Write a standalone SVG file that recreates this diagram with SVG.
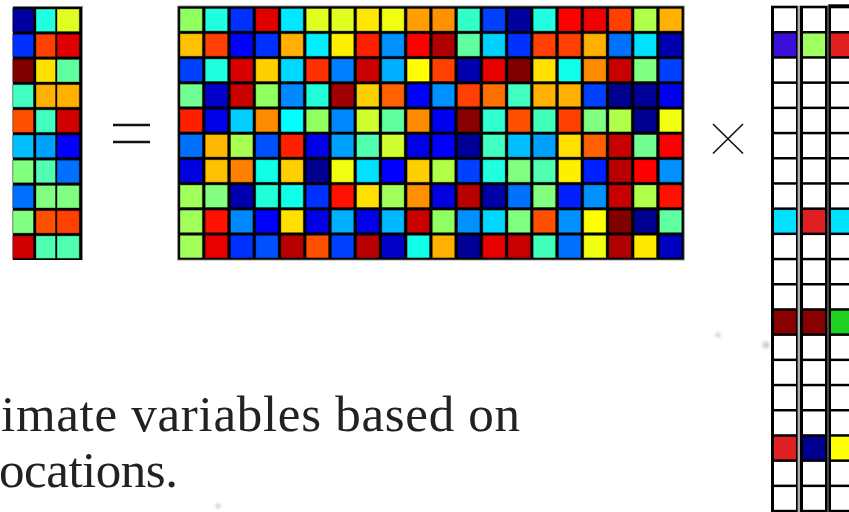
<svg xmlns="http://www.w3.org/2000/svg" xmlns:xlink="http://www.w3.org/1999/xlink" width="849" height="512" viewBox="0 0 849 512">
<style>
.frame{fill:#000;stroke:#888;stroke-width:0.8}
.m use{stroke:#000;stroke-opacity:0.35;stroke-width:1}
.r use{stroke:none}
.op{stroke:#111;stroke-linecap:butt}
.txt{font-family:"Liberation Serif","Times New Roman",serif;font-size:51px;fill:#222}
.smudge{fill:#bbb;opacity:0.7}
</style>
<defs>
<rect id="c" width="22.4" height="22.6"/>
<rect id="lc1" width="20.7" height="22.6"/>
<rect id="lc2" width="19.5" height="22.6"/>
<rect id="lc3" width="22.3" height="22.6"/>
<rect id="rc" width="22" height="22.7"/>
<filter id="blur"><feGaussianBlur stdDeviation="1.5"/></filter>
</defs>
<rect width="849" height="512" fill="#fff"/>

<g id="vector-left" class="m">
<rect x="12.8" y="6.5" width="69.7" height="253.5" fill="#000"/>
<line x1="82.5" y1="5.5" x2="82.5" y2="260.5" stroke="#999" stroke-width="0.8"/>
<use href="#lc1" x="12.8" y="9" fill="#0000a0"/><use href="#lc2" x="36" y="9" fill="#20ffe0"/><use href="#lc3" x="57" y="9" fill="#e0ff20"/>
<use href="#lc1" x="12.8" y="34.2" fill="#0030ff"/><use href="#lc2" x="36" y="34.2" fill="#ff4000"/><use href="#lc3" x="57" y="34.2" fill="#e00000"/>
<use href="#lc1" x="12.8" y="59.4" fill="#800000"/><use href="#lc2" x="36" y="59.4" fill="#ffe000"/><use href="#lc3" x="57" y="59.4" fill="#60ffa0"/>
<use href="#lc1" x="12.8" y="84.6" fill="#40ffc0"/><use href="#lc2" x="36" y="84.6" fill="#ffb000"/><use href="#lc3" x="57" y="84.6" fill="#ffb000"/>
<use href="#lc1" x="12.8" y="109.8" fill="#ff5000"/><use href="#lc2" x="36" y="109.8" fill="#40ffc0"/><use href="#lc3" x="57" y="109.8" fill="#d00000"/>
<use href="#lc1" x="12.8" y="135" fill="#00c0ff"/><use href="#lc2" x="36" y="135" fill="#00a0ff"/><use href="#lc3" x="57" y="135" fill="#0000ff"/>
<use href="#lc1" x="12.8" y="160.2" fill="#80ff80"/><use href="#lc2" x="36" y="160.2" fill="#50ffb0"/><use href="#lc3" x="57" y="160.2" fill="#0070ff"/>
<use href="#lc1" x="12.8" y="185.4" fill="#0070ff"/><use href="#lc2" x="36" y="185.4" fill="#80ff80"/><use href="#lc3" x="57" y="185.4" fill="#80ff80"/>
<use href="#lc1" x="12.8" y="210.6" fill="#80ff80"/><use href="#lc2" x="36" y="210.6" fill="#ff5000"/><use href="#lc3" x="57" y="210.6" fill="#ff4000"/>
<use href="#lc1" x="12.8" y="235.8" fill="#d00000"/><use href="#lc2" x="36" y="235.8" fill="#50ffb0"/><use href="#lc3" x="57" y="235.8" fill="#50ffb0"/>
</g>

<g id="equals">
<line class="op" x1="113" y1="125" x2="150" y2="125" stroke-width="2.3"/>
<line class="op" x1="113" y1="142" x2="150" y2="142" stroke-width="2.3"/>
</g>

<g id="matrix-middle" class="m">
<rect class="frame" x="177.7" y="6" width="506.5" height="254"/>
<g transform="translate(0,8.5)">
<use href="#c" x="180" fill="#90ff60"/><use href="#c" x="205.2" fill="#20ffe0"/><use href="#c" x="230.5" fill="#0030ff"/><use href="#c" x="255.7" fill="#e00000"/><use href="#c" x="280.9" fill="#00e8ff"/><use href="#c" x="306.2" fill="#e0ff20"/><use href="#c" x="331.4" fill="#e0ff20"/><use href="#c" x="356.6" fill="#ffe800"/><use href="#c" x="381.8" fill="#f0ff10"/><use href="#c" x="407.1" fill="#ffa000"/>
<use href="#c" x="432.3" fill="#ff9000"/><use href="#c" x="457.5" fill="#30ffc8"/><use href="#c" x="482.8" fill="#0040ff"/><use href="#c" x="508" fill="#0000a0"/><use href="#c" x="533.2" fill="#20ffe0"/><use href="#c" x="558.5" fill="#ff0000"/><use href="#c" x="583.7" fill="#f00000"/><use href="#c" x="608.9" fill="#ff4000"/><use href="#c" x="634.1" fill="#b0ff48"/><use href="#c" x="659.4" fill="#ffb000"/>
</g>
<g transform="translate(0,33.7)">
<use href="#c" x="180" fill="#ffc000"/><use href="#c" x="205.2" fill="#ff4000"/><use href="#c" x="230.5" fill="#0000ff"/><use href="#c" x="255.7" fill="#0030ff"/><use href="#c" x="280.9" fill="#ffb000"/><use href="#c" x="306.2" fill="#00f0ff"/><use href="#c" x="331.4" fill="#fff000"/><use href="#c" x="356.6" fill="#ff2000"/><use href="#c" x="381.8" fill="#0090ff"/><use href="#c" x="407.1" fill="#ff0000"/>
<use href="#c" x="432.3" fill="#b00000"/><use href="#c" x="457.5" fill="#60ffa0"/><use href="#c" x="482.8" fill="#00d0ff"/><use href="#c" x="508" fill="#0030ff"/><use href="#c" x="533.2" fill="#ff4000"/><use href="#c" x="558.5" fill="#ff4000"/><use href="#c" x="583.7" fill="#ffb000"/><use href="#c" x="608.9" fill="#0070ff"/><use href="#c" x="634.1" fill="#00e0ff"/><use href="#c" x="659.4" fill="#0000b0"/>
</g>
<g transform="translate(0,58.9)">
<use href="#c" x="180" fill="#0040ff"/><use href="#c" x="205.2" fill="#20ffe0"/><use href="#c" x="230.5" fill="#d80000"/><use href="#c" x="255.7" fill="#ffd000"/><use href="#c" x="280.9" fill="#00d8ff"/><use href="#c" x="306.2" fill="#ff3000"/><use href="#c" x="331.4" fill="#0080ff"/><use href="#c" x="356.6" fill="#c80000"/><use href="#c" x="381.8" fill="#00b0ff"/><use href="#c" x="407.1" fill="#ffff00"/>
<use href="#c" x="432.3" fill="#ff4000"/><use href="#c" x="457.5" fill="#0000b0"/><use href="#c" x="482.8" fill="#e80000"/><use href="#c" x="508" fill="#800000"/><use href="#c" x="533.2" fill="#ffe000"/><use href="#c" x="558.5" fill="#10ffe8"/><use href="#c" x="583.7" fill="#ff8c00"/><use href="#c" x="608.9" fill="#c80000"/><use href="#c" x="634.1" fill="#80ff80"/><use href="#c" x="659.4" fill="#0040ff"/>
</g>
<g transform="translate(0,84.1)">
<use href="#c" x="180" fill="#70ff90"/><use href="#c" x="205.2" fill="#0000c8"/><use href="#c" x="230.5" fill="#c80000"/><use href="#c" x="255.7" fill="#90ff60"/><use href="#c" x="280.9" fill="#0088ff"/><use href="#c" x="306.2" fill="#20ffd8"/><use href="#c" x="331.4" fill="#a00000"/><use href="#c" x="356.6" fill="#ffd000"/><use href="#c" x="381.8" fill="#ff6000"/><use href="#c" x="407.1" fill="#0000ff"/>
<use href="#c" x="432.3" fill="#0090ff"/><use href="#c" x="457.5" fill="#ff4000"/><use href="#c" x="482.8" fill="#ff7000"/><use href="#c" x="508" fill="#40ffc0"/><use href="#c" x="533.2" fill="#ffb000"/><use href="#c" x="558.5" fill="#ffb000"/><use href="#c" x="583.7" fill="#0040ff"/><use href="#c" x="608.9" fill="#000090"/><use href="#c" x="634.1" fill="#000098"/><use href="#c" x="659.4" fill="#0000f0"/>
</g>
<g transform="translate(0,109.3)">
<use href="#c" x="180" fill="#ff2000"/><use href="#c" x="205.2" fill="#0000e8"/><use href="#c" x="230.5" fill="#00d0ff"/><use href="#c" x="255.7" fill="#ff8c00"/><use href="#c" x="280.9" fill="#00ffff"/><use href="#c" x="306.2" fill="#90ff60"/><use href="#c" x="331.4" fill="#0088ff"/><use href="#c" x="356.6" fill="#d0ff30"/><use href="#c" x="381.8" fill="#60ffa0"/><use href="#c" x="407.1" fill="#ff8c00"/>
<use href="#c" x="432.3" fill="#0000f0"/><use href="#c" x="457.5" fill="#880000"/><use href="#c" x="482.8" fill="#30ffd0"/><use href="#c" x="508" fill="#ff5000"/><use href="#c" x="533.2" fill="#40ffb8"/><use href="#c" x="558.5" fill="#ff4000"/><use href="#c" x="583.7" fill="#80ff80"/><use href="#c" x="608.9" fill="#b0ff48"/><use href="#c" x="634.1" fill="#000090"/><use href="#c" x="659.4" fill="#f0ff10"/>
</g>
<g transform="translate(0,134.5)">
<use href="#c" x="180" fill="#0070ff"/><use href="#c" x="205.2" fill="#ffb800"/><use href="#c" x="230.5" fill="#a8ff50"/><use href="#c" x="255.7" fill="#0050ff"/><use href="#c" x="280.9" fill="#ff2000"/><use href="#c" x="306.2" fill="#0000e8"/><use href="#c" x="331.4" fill="#00a0ff"/><use href="#c" x="356.6" fill="#50ffb0"/><use href="#c" x="381.8" fill="#d0ff30"/><use href="#c" x="407.1" fill="#0000e8"/>
<use href="#c" x="432.3" fill="#0000ff"/><use href="#c" x="457.5" fill="#000098"/><use href="#c" x="482.8" fill="#40ffc0"/><use href="#c" x="508" fill="#00c0ff"/><use href="#c" x="533.2" fill="#00a0ff"/><use href="#c" x="558.5" fill="#ffe000"/><use href="#c" x="583.7" fill="#ff6000"/><use href="#c" x="608.9" fill="#c80000"/><use href="#c" x="634.1" fill="#70ff90"/><use href="#c" x="659.4" fill="#ff0000"/>
</g>
<g transform="translate(0,159.7)">
<use href="#c" x="180" fill="#0000e0"/><use href="#c" x="205.2" fill="#ffc000"/><use href="#c" x="230.5" fill="#ff8000"/><use href="#c" x="255.7" fill="#10ffe8"/><use href="#c" x="280.9" fill="#ffd000"/><use href="#c" x="306.2" fill="#000090"/><use href="#c" x="331.4" fill="#f0ff10"/><use href="#c" x="356.6" fill="#00e0ff"/><use href="#c" x="381.8" fill="#0000ff"/><use href="#c" x="407.1" fill="#ffd000"/>
<use href="#c" x="432.3" fill="#b0ff48"/><use href="#c" x="457.5" fill="#0040ff"/><use href="#c" x="482.8" fill="#20ffe0"/><use href="#c" x="508" fill="#80ff80"/><use href="#c" x="533.2" fill="#50ffb0"/><use href="#c" x="558.5" fill="#fff000"/><use href="#c" x="583.7" fill="#0020ff"/><use href="#c" x="608.9" fill="#b80000"/><use href="#c" x="634.1" fill="#ff0000"/><use href="#c" x="659.4" fill="#0090ff"/>
</g>
<g transform="translate(0,184.9)">
<use href="#c" x="180" fill="#a0ff58"/><use href="#c" x="205.2" fill="#80ff80"/><use href="#c" x="230.5" fill="#0000b0"/><use href="#c" x="255.7" fill="#20ffd8"/><use href="#c" x="280.9" fill="#10ffe8"/><use href="#c" x="306.2" fill="#0030ff"/><use href="#c" x="331.4" fill="#ff1000"/><use href="#c" x="356.6" fill="#ffe000"/><use href="#c" x="381.8" fill="#a0ff58"/><use href="#c" x="407.1" fill="#ff9000"/>
<use href="#c" x="432.3" fill="#0000e0"/><use href="#c" x="457.5" fill="#b80000"/><use href="#c" x="482.8" fill="#0000a8"/><use href="#c" x="508" fill="#0070ff"/><use href="#c" x="533.2" fill="#80ff80"/><use href="#c" x="558.5" fill="#0020ff"/><use href="#c" x="583.7" fill="#0090ff"/><use href="#c" x="608.9" fill="#c80000"/><use href="#c" x="634.1" fill="#b0ff48"/><use href="#c" x="659.4" fill="#ff1000"/>
</g>
<g transform="translate(0,210.1)">
<use href="#c" x="180" fill="#a0ff58"/><use href="#c" x="205.2" fill="#ff1000"/><use href="#c" x="230.5" fill="#0088ff"/><use href="#c" x="255.7" fill="#0000ff"/><use href="#c" x="280.9" fill="#ffe000"/><use href="#c" x="306.2" fill="#0000e8"/><use href="#c" x="331.4" fill="#00b0ff"/><use href="#c" x="356.6" fill="#0000e8"/><use href="#c" x="381.8" fill="#00b8ff"/><use href="#c" x="407.1" fill="#c80000"/>
<use href="#c" x="432.3" fill="#90ff60"/><use href="#c" x="457.5" fill="#0090ff"/><use href="#c" x="482.8" fill="#00d8ff"/><use href="#c" x="508" fill="#80ff80"/><use href="#c" x="533.2" fill="#ff5000"/><use href="#c" x="558.5" fill="#0090ff"/><use href="#c" x="583.7" fill="#ffff00"/><use href="#c" x="608.9" fill="#800000"/><use href="#c" x="634.1" fill="#000090"/><use href="#c" x="659.4" fill="#60ffa0"/>
</g>
<g transform="translate(0,235.3)">
<use href="#c" x="180" fill="#a0ff58"/><use href="#c" x="205.2" fill="#e80000"/><use href="#c" x="230.5" fill="#0030ff"/><use href="#c" x="255.7" fill="#0050ff"/><use href="#c" x="280.9" fill="#b80000"/><use href="#c" x="306.2" fill="#ff5000"/><use href="#c" x="331.4" fill="#0040ff"/><use href="#c" x="356.6" fill="#b80000"/><use href="#c" x="381.8" fill="#0000c8"/><use href="#c" x="407.1" fill="#10ffe8"/>
<use href="#c" x="432.3" fill="#ffb000"/><use href="#c" x="457.5" fill="#000098"/><use href="#c" x="482.8" fill="#e80000"/><use href="#c" x="508" fill="#c80000"/><use href="#c" x="533.2" fill="#40ffb8"/><use href="#c" x="558.5" fill="#0070ff"/><use href="#c" x="583.7" fill="#f0ff10"/><use href="#c" x="608.9" fill="#b00000"/><use href="#c" x="634.1" fill="#ffe800"/><use href="#c" x="659.4" fill="#0000c0"/>
</g>
</g>

<g id="times">
<line class="op" x1="713" y1="124" x2="743" y2="153.5" stroke-width="1.6"/>
<line class="op" x1="743" y1="124" x2="713" y2="153.5" stroke-width="1.6"/>
</g>

<g id="matrix-right" class="r">
<rect x="797.7" y="5.7" width="2.3" height="510" fill="#aaa"/>
<rect x="827.7" y="4.3" width="0.8" height="510" fill="#ccc"/>
<rect x="771" y="5.7" width="26.7" height="510" fill="#000"/>
<rect x="800" y="5.7" width="27.7" height="510" fill="#000"/>
<rect x="828.3" y="4.3" width="30" height="510" fill="#000"/>
<g id="col1" transform="translate(774,0)">
<use href="#rc" y="8.3" fill="#fff"/><use href="#rc" y="33.5" fill="#3a10d8"/><use href="#rc" y="58.7" fill="#fff"/><use href="#rc" y="83.9" fill="#fff"/><use href="#rc" y="109.1" fill="#fff"/>
<use href="#rc" y="134.3" fill="#fff"/><use href="#rc" y="159.5" fill="#fff"/><use href="#rc" y="184.7" fill="#fff"/><use href="#rc" y="209.9" fill="#00e0ff"/><use href="#rc" y="235.1" fill="#fff"/>
<use href="#rc" y="260.3" fill="#fff"/><use href="#rc" y="285.5" fill="#fff"/><use href="#rc" y="310.7" fill="#880000"/><use href="#rc" y="335.9" fill="#fff"/><use href="#rc" y="361.1" fill="#fff"/>
<use href="#rc" y="386.3" fill="#fff"/><use href="#rc" y="411.5" fill="#fff"/><use href="#rc" y="436.7" fill="#e02020"/><use href="#rc" y="461.9" fill="#fff"/><use href="#rc" y="487.1" fill="#fff"/>
</g>
<g id="col2" transform="translate(803,0)">
<use href="#rc" y="8.3" fill="#fff"/><use href="#rc" y="33.5" fill="#a0ff60"/><use href="#rc" y="58.7" fill="#fff"/><use href="#rc" y="83.9" fill="#fff"/><use href="#rc" y="109.1" fill="#fff"/>
<use href="#rc" y="134.3" fill="#fff"/><use href="#rc" y="159.5" fill="#fff"/><use href="#rc" y="184.7" fill="#fff"/><use href="#rc" y="209.9" fill="#e02020"/><use href="#rc" y="235.1" fill="#fff"/>
<use href="#rc" y="260.3" fill="#fff"/><use href="#rc" y="285.5" fill="#fff"/><use href="#rc" y="310.7" fill="#880000"/><use href="#rc" y="335.9" fill="#fff"/><use href="#rc" y="361.1" fill="#fff"/>
<use href="#rc" y="386.3" fill="#fff"/><use href="#rc" y="411.5" fill="#fff"/><use href="#rc" y="436.7" fill="#000090"/><use href="#rc" y="461.9" fill="#fff"/><use href="#rc" y="487.1" fill="#fff"/>
</g>
<g id="col3" transform="translate(831,0)">
<use href="#rc" y="8.3" fill="#fff"/><use href="#rc" y="33.5" fill="#e02020"/><use href="#rc" y="58.7" fill="#fff"/><use href="#rc" y="83.9" fill="#fff"/><use href="#rc" y="109.1" fill="#fff"/>
<use href="#rc" y="134.3" fill="#fff"/><use href="#rc" y="159.5" fill="#fff"/><use href="#rc" y="184.7" fill="#fff"/><use href="#rc" y="209.9" fill="#00e0ff"/><use href="#rc" y="235.1" fill="#fff"/>
<use href="#rc" y="260.3" fill="#fff"/><use href="#rc" y="285.5" fill="#fff"/><use href="#rc" y="310.7" fill="#20d020"/><use href="#rc" y="335.9" fill="#fff"/><use href="#rc" y="361.1" fill="#fff"/>
<use href="#rc" y="386.3" fill="#fff"/><use href="#rc" y="411.5" fill="#fff"/><use href="#rc" y="436.7" fill="#ffff00"/><use href="#rc" y="461.9" fill="#fff"/><use href="#rc" y="487.1" fill="#fff"/>
</g>
</g>

<g id="caption">
<text class="txt" x="1" y="431" textLength="519" lengthAdjust="spacing">imate variables based on</text>
<text class="txt" x="-1" y="487" textLength="179" lengthAdjust="spacing">ocations.</text>
</g>

<g id="smudges" filter="url(#blur)">
<circle class="smudge" cx="718" cy="335" r="2.5"/>
<circle class="smudge" cx="766" cy="345" r="3.5"/>
<circle class="smudge" cx="218" cy="506" r="2.5"/>
</g>
</svg>
